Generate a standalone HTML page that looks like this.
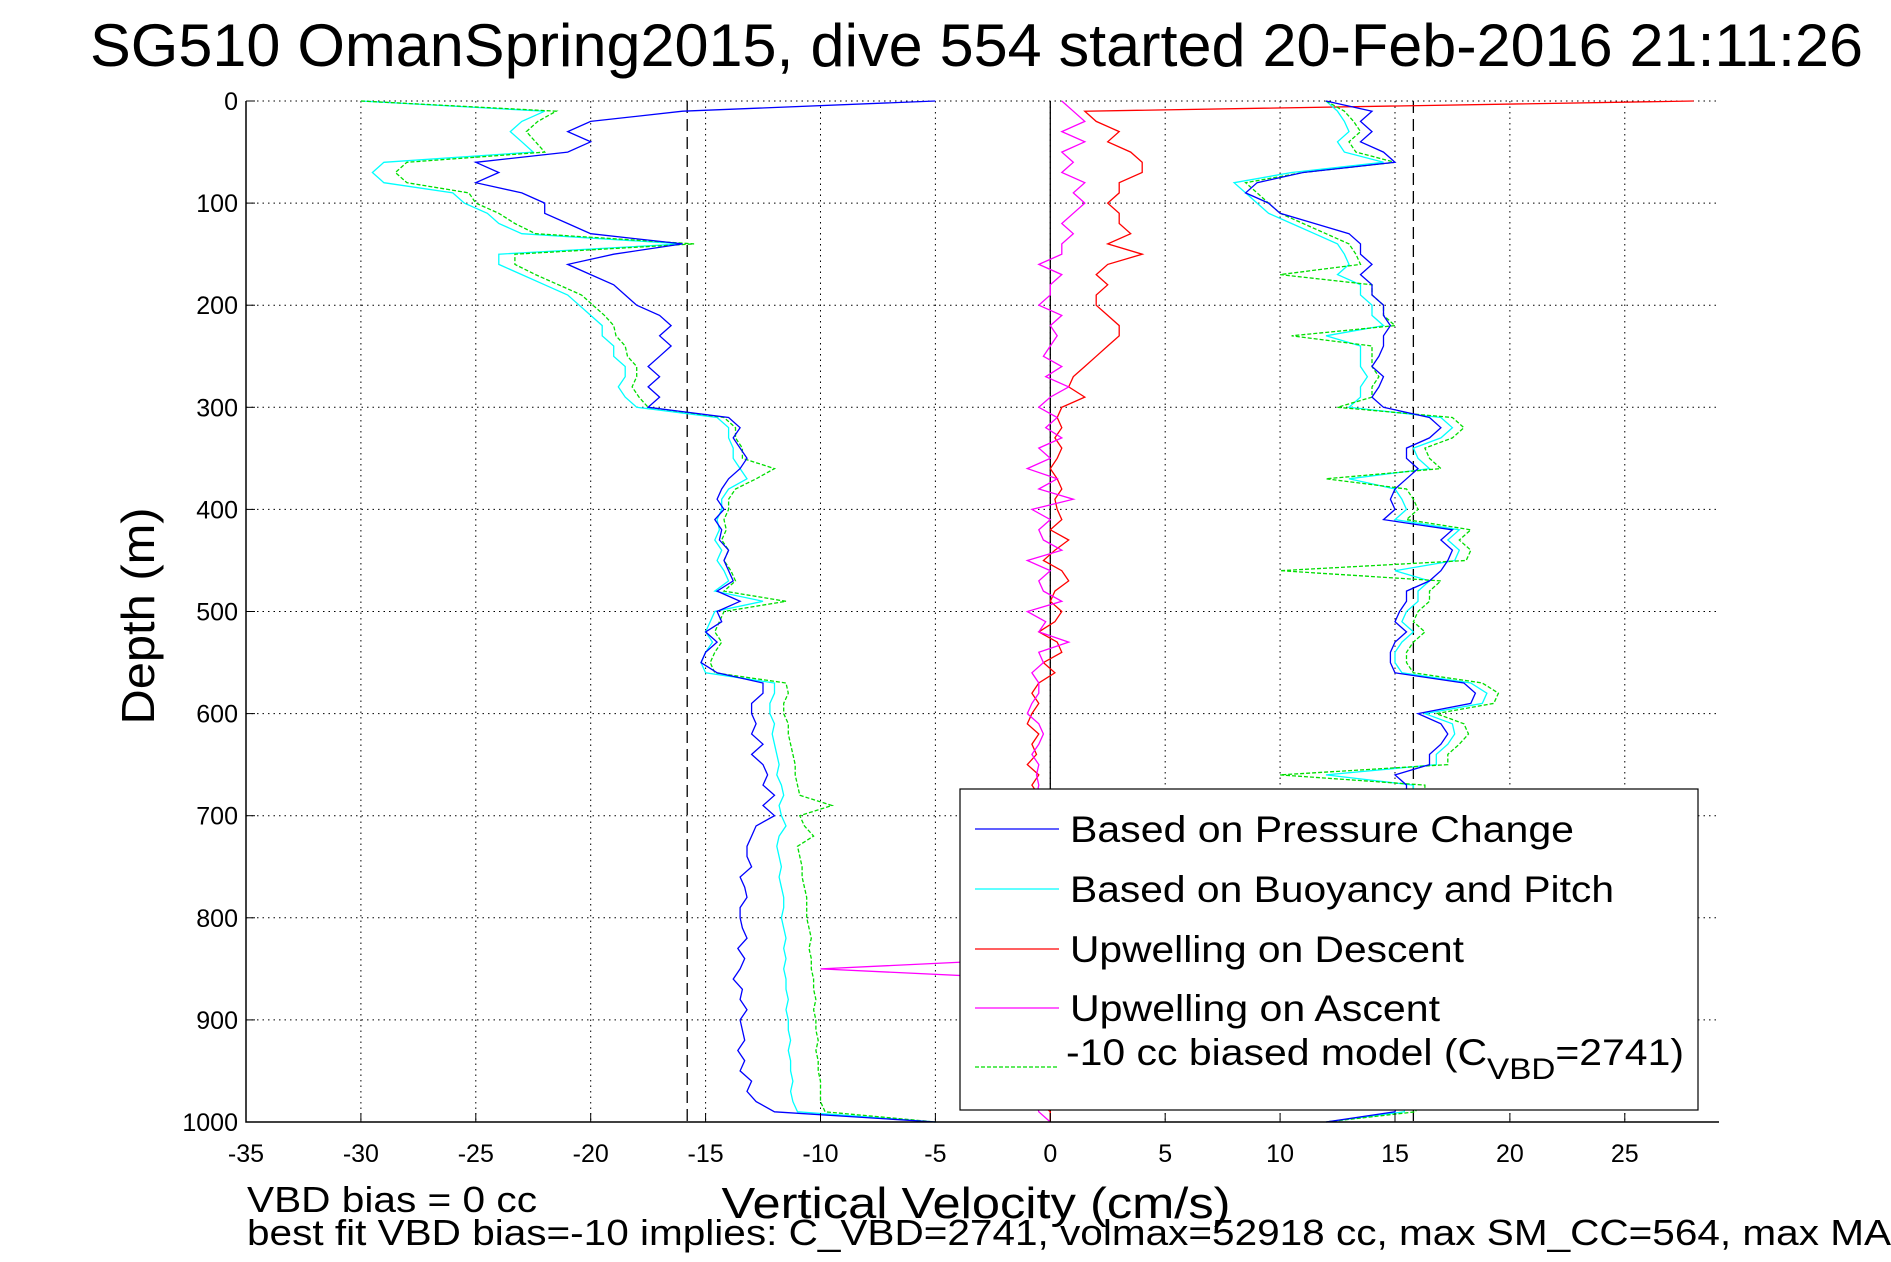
<!DOCTYPE html>
<html><head><meta charset="utf-8"><style>
html,body{margin:0;padding:0;background:#fff;}
svg{display:block;font-family:"Liberation Sans",sans-serif;}
</style></head><body>
<svg id="chart" width="1891" height="1262" viewBox="0 0 1891 1262">
<rect width="1891" height="1262" fill="#fff"/>
<text x="90" y="66" font-size="60" textLength="1773" lengthAdjust="spacingAndGlyphs">SG510 OmanSpring2015, dive 554 started 20-Feb-2016 21:11:26</text>
<g id="grid"></g><g id="series"></g><g id="axes"></g>
<text x="0" y="0" font-size="46" transform="translate(154,616) rotate(-90)" text-anchor="middle" textLength="217" lengthAdjust="spacingAndGlyphs">Depth (m)</text>
<text x="976" y="1218" font-size="44" text-anchor="middle" textLength="509" lengthAdjust="spacingAndGlyphs">Vertical Velocity (cm/s)</text>
<text x="247" y="1212" font-size="36" textLength="290" lengthAdjust="spacingAndGlyphs">VBD bias = 0 cc</text>
<text x="247" y="1245" font-size="36" textLength="1644" lengthAdjust="spacingAndGlyphs">best fit VBD bias=-10 implies: C_VBD=2741, volmax=52918 cc, max SM_CC=564, max MA</text>
<g id="legend">
<rect x="960" y="789" width="738" height="321" fill="#fff" stroke="#000" stroke-width="1.2"/>
</g>
</svg>
<script>
const depths=[];for(let d=0;d<=1000;d+=10)depths.push(d);
const descPressure=[-5,-16,-20,-21,-20,-21,-25,-24,-25,-23,-22,-22,-21,-20,-16,-19,-21,-20,-19,-18.5,-18,-17,-16.5,-17,-16.5,-17,-17.5,-17,-17.5,-17,-17.5,-14,-13.5,-13.8,-13.5,-13.2,-13.5,-14,-14.3,-14.5,-14.2,-14.6,-14.3,-14.4,-14,-14.2,-14,-13.8,-14.5,-13.5,-14.5,-14.3,-15,-14.5,-15,-15.2,-14.5,-12.5,-12.5,-13,-13,-12.8,-13,-12.5,-13,-12.5,-12.3,-12.5,-12,-12.5,-12,-12.8,-13,-13.2,-13.2,-13,-13.5,-13.3,-13.2,-13.5,-13.5,-13.4,-13.2,-13.6,-13.3,-13.5,-13.8,-13.4,-13.5,-13.2,-13.5,-13.4,-13.3,-13.6,-13.3,-13.5,-13,-13.2,-12.8,-12,-5];
const descModel=[-30,-22,-23,-23.5,-23,-22.5,-29,-29.5,-29,-26,-25.5,-24.5,-24,-23,-16,-24,-24,-23,-22,-21,-20.5,-20,-19.5,-19.5,-19,-19,-18.5,-18.5,-18.8,-18.5,-18,-14.5,-14,-14,-13.8,-13.8,-13.5,-13.2,-14,-14.3,-14.3,-14.5,-14.4,-14.6,-14.3,-14.5,-14.2,-14,-14.6,-12.5,-14.6,-14.8,-15,-14.7,-15,-15.2,-15,-12,-12,-12.2,-12.2,-12,-12.1,-12,-11.9,-11.8,-11.9,-11.7,-11.6,-11.8,-11.7,-11.5,-11.8,-11.9,-11.8,-11.7,-11.8,-11.7,-11.6,-11.6,-11.7,-11.6,-11.5,-11.6,-11.5,-11.6,-11.5,-11.5,-11.4,-11.5,-11.4,-11.4,-11.3,-11.4,-11.3,-11.3,-11.2,-11.3,-11.2,-11,-5];
const descBiased=[-30,-21.5,-22.3,-22.8,-22.4,-22,-28,-28.5,-28,-25.3,-25,-24,-23.3,-22.4,-15.5,-23.3,-23.3,-22.4,-21.4,-20.4,-19.9,-19.4,-19,-18.9,-18.5,-18.4,-18,-18,-18.2,-17.9,-17.5,-14.2,-13.7,-13.7,-13.4,-13.4,-12,-12.8,-13.7,-14,-14,-14.2,-14.1,-14.3,-14,-14.2,-13.9,-13.7,-14.2,-11.5,-14.2,-14.4,-14.6,-14.3,-14.6,-14.8,-14.6,-11.5,-11.4,-11.6,-11.6,-11.4,-11.4,-11.3,-11.2,-11.1,-11.1,-11,-10.9,-9.5,-10.9,-10.7,-10.3,-11,-10.9,-10.8,-10.8,-10.7,-10.6,-10.6,-10.6,-10.5,-10.4,-10.5,-10.4,-10.4,-10.3,-10.3,-10.2,-10.3,-10.2,-10.2,-10.1,-10.2,-10.1,-10.1,-10,-10,-10,-9.8,-5];
const ascPressure=[12,14,13.5,14,13.5,14.5,15,11,9,8.5,9.5,10,11.5,13,13.5,13.5,14,13.5,14,14,14.5,14.5,14.8,14.5,14.5,14.3,14,14.5,14.3,14,14.5,16.5,17,16.5,15.5,15.5,16,15.5,15,14.8,15,14.5,17.5,17,17.5,17.3,17,16.5,15.5,15.5,15.2,15,15.5,15,14.8,14.8,15,18,18.5,18.3,16,17,17.3,17,16.5,16.5,15,15.5,15.5,15,15.2,15,15.3,15,15.1,15,15.2,15,15.1,15,15.2,15,15.1,15,15.2,15,15.1,15,15.2,15,15.1,15,15.2,15,15.1,15,15.2,15,15.1,15,12];
const ascModel=[12,12.5,12.8,13,12.5,12.8,14.5,10.5,8,8.5,9,9.5,10.5,11.5,12.5,12.8,13,12.5,13.5,13.5,14,14,14.5,12,13.5,13.5,13.5,13.8,13.5,13.5,13,17,17.5,17,15.8,16,16.5,13,15,15.3,15.5,15,17.8,17.3,17.8,17.6,15,16.5,16,16,15.5,15.3,15.8,15.3,15,15,15.3,18.3,19,18.8,16.3,17.5,17.6,17.3,16.8,16.8,12,15.8,15.8,15.4,15.5,15.4,15.6,15.4,15.5,15.4,15.5,15.4,15.5,15.4,15.5,15.4,15.5,15.4,15.5,15.4,15.5,15.4,15.5,15.4,15.5,15.4,15.5,15.4,15.5,15.4,15.5,15.4,15.5,15.4,12];
const ascBiased=[12,12.8,13.2,13.5,13,13.3,15,11,8.5,9,9.5,10,11,12,13,13.3,13.5,10,14,14,14.5,14.5,15,10.5,14,14,14,14.3,14,14,12.5,17.5,18,17.5,16.3,16.5,17,12,15.5,15.8,16,15.5,18.3,17.8,18.3,18.1,10,17,16.5,16.5,16,15.8,16.3,15.8,15.5,15.5,15.8,18.8,19.5,19.3,16.8,18,18.2,17.8,17.3,17.3,10,16.3,16.3,15.9,16,15.9,16.1,15.9,16,15.9,16,15.9,16,15.9,16,15.9,16,15.9,16,15.9,16,15.9,16,15.9,16,15.9,16,15.9,16,15.9,16,15.9,16,15.9,12];
const upDescent=[28,1.5,2,3,2.5,3.5,4,4,3,3,2.5,3,3,3.5,2.5,4,2.5,2,2.5,2,2,2.5,3,3,2.5,2,1.5,1,0.8,1.5,0.5,0.3,0.5,0.2,0.5,0.3,0,0.3,0.5,0.2,0.3,0.5,0,0.8,0.2,-0.3,0.5,0.8,0.2,0,0.5,0.2,-0.5,0.3,0.5,-0.3,0.2,-0.5,-0.8,-0.5,-0.8,-1,-0.5,-0.8,-0.6,-1,-0.5,-0.8,-0.5,-0.6,-0.5,-0.6,-0.5,-0.6,-0.5,-0.6,-0.5,-0.6,-0.5,-0.6,-0.5,-0.6,-0.5,-0.6,-0.5,-0.6,-0.5,-0.6,-0.5,-0.6,-0.5,-0.6,-0.5,-0.6,-0.5,-0.6,-0.5,-0.6,-0.5,0,0];
const upAscent=[0.5,1,1.5,0.5,1.5,0.5,1,0.5,1.5,1,1.5,1,0.5,1,0.5,0.5,-0.5,0.5,0,0,-0.5,0.5,0,0.3,0,-0.3,0.5,-0.2,0.8,0,-0.5,0.3,-0.2,0.5,-0.5,0,-1,0.3,-0.5,1,-0.8,0,-0.5,-0.3,0.5,-1,0,-0.5,-0.3,0.5,-1,-0.2,-0.5,0.8,-0.5,-0.3,-0.8,-0.5,-0.5,-0.8,-1,-0.5,-0.3,-0.5,-0.8,-0.5,-0.6,-0.5,-0.6,-0.5,-0.6,-0.5,-0.6,-0.5,-0.6,-0.5,-0.6,-0.5,-0.6,-0.5,-0.6,-0.5,-0.6,-0.5,-0.6,-10,-0.6,-0.5,-0.6,-0.5,-0.6,-0.5,-0.6,-0.5,-0.6,-0.5,-0.6,-0.5,-0.6,-0.5,0];
const xTicks=[-35,-30,-25,-20,-15,-10,-5,0,5,10,15,20,25];
const yTicks=[0,100,200,300,400,500,600,700,800,900,1000];
const xMin=-35,xMax=29.1,dMin=0,dMax=1000;
const L=246,R=1719,T=101,B=1122;
const xs=v=>L+(v-xMin)/(xMax-xMin)*(R-L);
const ys=d=>T+(d-dMin)/(dMax-dMin)*(B-T);
const NS='http://www.w3.org/2000/svg';
function mk(tag,attrs,parent){const e=document.createElementNS(NS,tag);for(const k in attrs)e.setAttribute(k,attrs[k]);parent.appendChild(e);return e;}
const grid=document.getElementById('grid'),axes=document.getElementById('axes'),ser=document.getElementById('series');
xTicks.forEach(t=>{
 const g=mk('line',{x1:xs(t),x2:xs(t),y1:T,y2:B,stroke:'#000','stroke-width':1,'stroke-dasharray':'1.5,4'},grid);
 
 
 mk('line',{x1:xs(t),x2:xs(t),y1:B,y2:B-9,stroke:'#000'},axes);
 const tx=mk('text',{x:xs(t),y:B+40,'font-size':25,'text-anchor':'middle'},axes);
 tx.textContent=t;
 
 
});
yTicks.forEach(t=>{
 const g=mk('line',{x1:L,x2:R,y1:ys(t),y2:ys(t),stroke:'#000','stroke-width':1,'stroke-dasharray':'1.5,4'},grid);
 
 
 mk('line',{x1:L,x2:L+9,y1:ys(t),y2:ys(t),stroke:'#000'},axes);
 const tx=mk('text',{x:L-8,y:ys(t)+9,'font-size':25,'text-anchor':'end'},axes);
 tx.textContent=t;
 
 
});
const ax=mk('path',{d:`M${L},${T}V${B}H${R}`,fill:'none',stroke:'#000','stroke-width':1.5},axes);


const z=mk('line',{x1:xs(0),x2:xs(0),y1:T,y2:B,stroke:'#000','stroke-width':1.3},ser);


[-15.8,15.8].forEach(v=>{
 const l=mk('line',{x1:xs(v),x2:xs(v),y1:T,y2:B,stroke:'#000','stroke-width':1.3,'stroke-dasharray':'12,6'},ser);
 
 
});
function line(vals,color,name,dash){
 const pts=vals.map((v,i)=>xs(v).toFixed(1)+','+ys(depths[i]).toFixed(1)).join(' ');
 const p=mk('polyline',{points:pts,fill:'none',stroke:color,'stroke-width':1.3},ser);
 if(dash)p.setAttribute('stroke-dasharray',dash);
 
 
}
line(upDescent,'#ff0000','upwelling-descent-line');
line(upAscent,'#ff00ff','upwelling-ascent-line');
line(descModel,'#00ffff','buoyancy-model-descent-line');
line(ascModel,'#00ffff','buoyancy-model-ascent-line');
line(descBiased,'#00dd00','biased-model-descent-line','4,2');
line(ascBiased,'#00dd00','biased-model-ascent-line','4,2');
line(descPressure,'#0000ff','pressure-descent-line');
line(ascPressure,'#0000ff','pressure-ascent-line');
const leg=document.getElementById('legend');
const entries=[['Based on Pressure Change','#0000ff',829,'',504],['Based on Buoyancy and Pitch','#00ffff',889,'',544],['Upwelling on Descent','#ff0000',949,'',394],['Upwelling on Ascent','#ff00ff',1008,'',370],['-10 cc biased model (C','#00dd00',1067,'4,2',618]];
entries.forEach((e,i)=>{
 const l=mk('line',{x1:975,x2:1059,y1:e[2],y2:e[2],stroke:e[1],'stroke-width':1.3},leg);
 if(e[3])l.setAttribute('stroke-dasharray',e[3]);
 
 
 const t=mk('text',{x:i==4?1066:1070,y:e[2]+(i==4?-2:13),'font-size':37,textLength:e[4],lengthAdjust:'spacingAndGlyphs'},leg);
 if(i==4){t.textContent=e[0];const s1=mk('tspan',{dy:14,'font-size':30},t);s1.textContent='VBD';const s2=mk('tspan',{dy:-14},t);s2.textContent='=2741)';}
 else t.textContent=e[0];
 
 
});
</script>
</body></html>
